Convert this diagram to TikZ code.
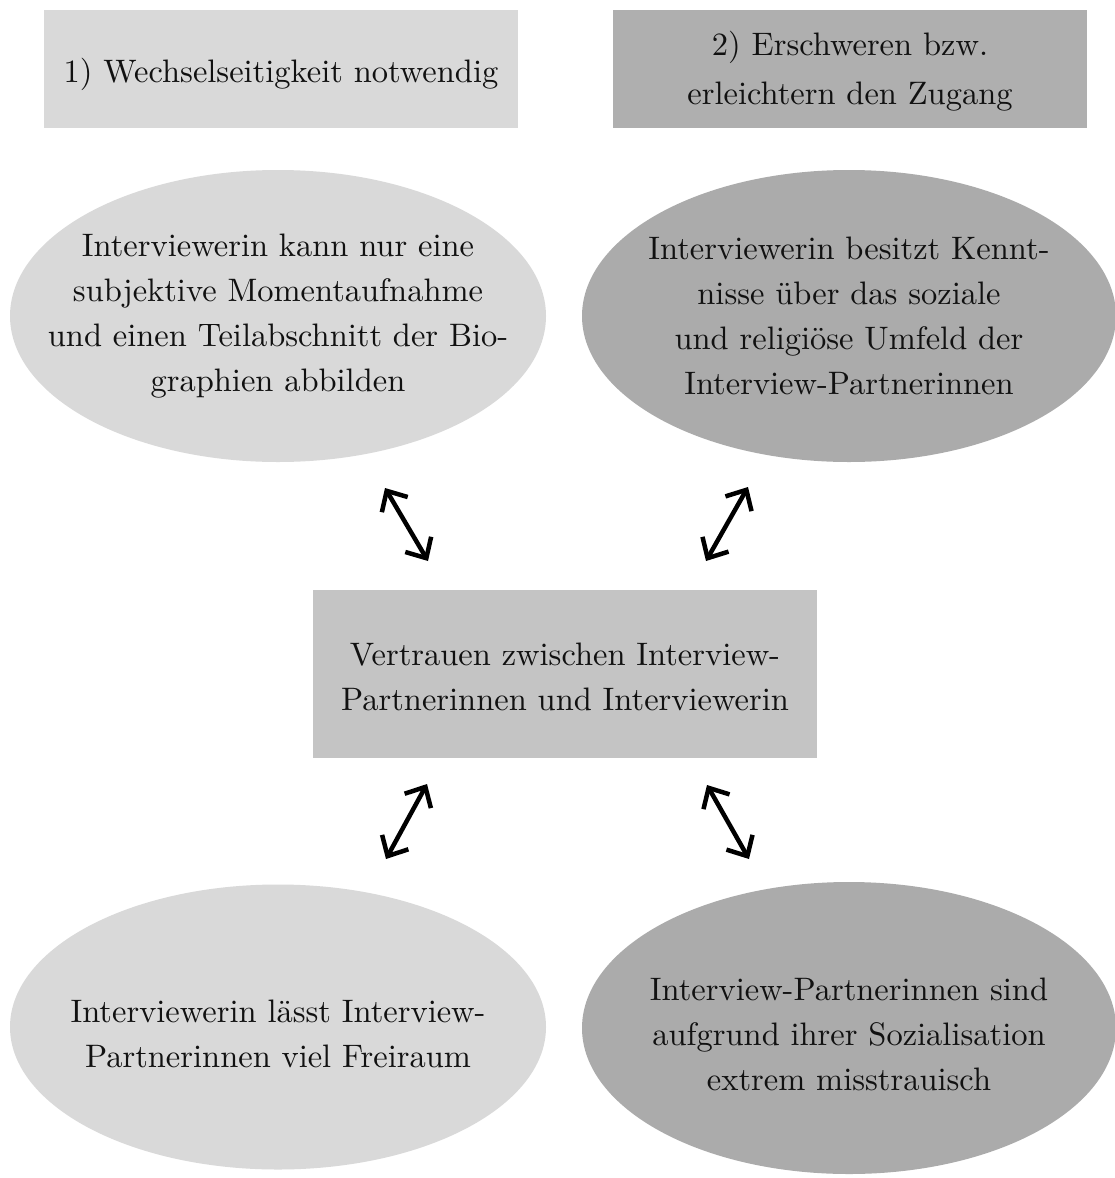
\documentclass[tikz,border=0pt]{standalone}
\usepackage{fontspec}
\setmainfont{lmroman10-regular.otf}
\usetikzlibrary{shapes.geometric,arrows.meta}
\definecolor{lightg}{HTML}{D9D9D9}
\definecolor{darkg}{HTML}{ABABAB}
\definecolor{boxg}{HTML}{AFAFAF}
\definecolor{midg}{HTML}{C4C4C4}
\definecolor{txt}{HTML}{111111}
\begin{document}
\begin{tikzpicture}[x=1pt,y=-1pt,
  every node/.style={text=txt,font=\fontsize{32.5}{45}\selectfont,align=center,inner sep=0pt},
  rectbox/.style={rectangle,minimum width=#1,minimum height=118pt},
  ell/.style={ellipse,minimum width=536pt,minimum height=292pt},
  dbl/.style={line width=4.5pt,{Straight Barb[length=16pt,width=30pt,line width=4.5pt]}-{Straight Barb[length=16pt,width=30pt,line width=4.5pt]}}
]
\useasboundingbox[fill=white] (0,0) rectangle (1114,1178);
\node[rectbox=474pt,fill=lightg] (b1) at (281,69) {};
\node (b1t) at ([yshift=-5pt]b1.center) {1) Wechselseitigkeit notwendig};
\node[rectbox=474pt,fill=boxg] (b2) at (850,69) {};
\node[font=\fontsize{32.5}{49}\selectfont] (b2t) at ([yshift=-2pt]b2.center) {2) Erschweren bzw.\\erleichtern den Zugang};
\node[ell,fill=lightg] (e1) at (278,316) {};
\node (e1t) at (e1) {Interviewerin kann nur eine\\subjektive Momentaufnahme\\und einen Teilabschnitt der Bio-\\graphien abbilden};
\node[ell,fill=darkg,minimum width=534pt] (e2) at (849,316) {};
\node (e2t) at (e2) {Interviewerin besitzt Kennt-\\nisse \"uber das soziale\\und religi\"ose Umfeld der\\Interview-Partnerinnen};
\node[rectangle,fill=midg,minimum width=504pt,minimum height=168pt] (c) at (565,674) {};
\node (ct) at ([yshift=-3pt]c.center) {Vertrauen zwischen Interview-\\Partnerinnen und Interviewerin};
\node[ell,fill=lightg,minimum height=285pt] (e3) at (278,1027) {};
\node (e3t) at ([yshift=-7pt]e3.center) {Interviewerin l\"asst Interview-\\Partnerinnen viel Freiraum};
\node[ell,fill=darkg,minimum width=534pt] (e4) at (849,1028) {};
\node (e4t) at ([yshift=-6pt]e4.center) {Interview-Partnerinnen sind\\aufgrund ihrer Sozialisation\\extrem misstrauisch};
\coordinate (a1s) at (385,488);
\coordinate (a1e) at (428,561);
\coordinate (a2s) at (748,487);
\coordinate (a2e) at (706,561);
\coordinate (a3s) at (427,784);
\coordinate (a3e) at (386,859);
\coordinate (a4s) at (707,785);
\coordinate (a4e) at (749,859);
\draw[dbl] (a1s) -- (a1e);
\draw[dbl] (a2s) -- (a2e);
\draw[dbl] (a3s) -- (a3e);
\draw[dbl] (a4s) -- (a4e);
\end{tikzpicture}
\end{document}
